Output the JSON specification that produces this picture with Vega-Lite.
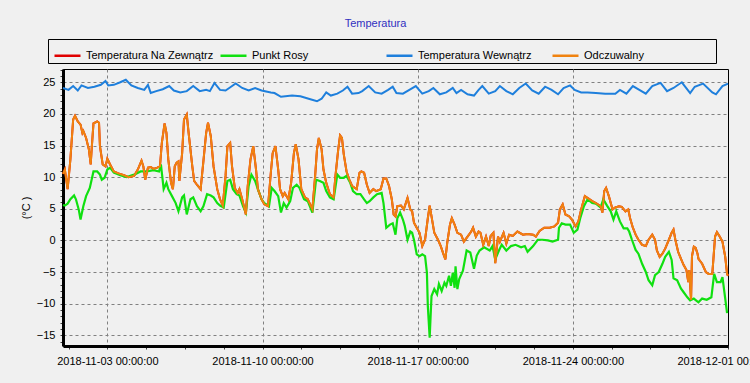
{
  "$schema": "https://vega.github.io/schema/vega-lite/v6.json",
  "width": 665,
  "height": 277,
  "autosize": {"type": "none"},
  "padding": {"left": 63, "top": 69, "right": 22, "bottom": 37},
  "background": "#f0f0f0",
  "title": {"text": "Temperatura", "color": "#3030c0", "fontSize": 11, "fontWeight": "normal", "font": "Liberation Sans", "anchor": "middle", "dx": -20, "offset": 10},
  "datasets": {
    "odcz": [
      {"t":"2018-11-01T00:00","v":10.5},{"t":"2018-11-01T02:00","v":11.2},{"t":"2018-11-01T05:00","v":8.1},{"t":"2018-11-01T08:00","v":12.8},{"t":"2018-11-01T11:00","v":19.1},{"t":"2018-11-01T13:00","v":19.7},{"t":"2018-11-01T16:00","v":18.8},{"t":"2018-11-01T19:00","v":18.3},{"t":"2018-11-01T21:00","v":17},{"t":"2018-11-01T22:00","v":17.3},
      {"t":"2018-11-02T01:00","v":16.2},{"t":"2018-11-02T04:00","v":14.4},{"t":"2018-11-02T06:00","v":12},{"t":"2018-11-02T07:00","v":14.4},{"t":"2018-11-02T09:00","v":18.5},{"t":"2018-11-02T13:00","v":18.8},{"t":"2018-11-02T15:00","v":18.6},{"t":"2018-11-02T16:00","v":14.9},{"t":"2018-11-02T19:00","v":12},{"t":"2018-11-02T22:00","v":11.7},
      {"t":"2018-11-03T00:00","v":12.9},{"t":"2018-11-03T03:00","v":12},{"t":"2018-11-03T07:00","v":10.9},{"t":"2018-11-03T12:00","v":10.6},{"t":"2018-11-03T18:00","v":10.3},{"t":"2018-11-03T23:00","v":10},
      {"t":"2018-11-04T05:00","v":10.2},{"t":"2018-11-04T09:00","v":11.2},{"t":"2018-11-04T13:00","v":12.6},{"t":"2018-11-04T15:00","v":11.7},{"t":"2018-11-04T17:00","v":9.6},{"t":"2018-11-04T20:00","v":11.5},{"t":"2018-11-04T23:00","v":11.6},
      {"t":"2018-11-05T02:00","v":11.3},{"t":"2018-11-05T06:00","v":11.5},{"t":"2018-11-05T09:00","v":11.7},{"t":"2018-11-05T11:00","v":15.4},{"t":"2018-11-05T14:00","v":18.5},{"t":"2018-11-05T16:00","v":17},{"t":"2018-11-05T18:00","v":12.8},{"t":"2018-11-05T21:00","v":9.1},{"t":"2018-11-05T23:00","v":8.1},
      {"t":"2018-11-06T01:00","v":11.7},{"t":"2018-11-06T03:00","v":12.3},{"t":"2018-11-06T05:00","v":12.5},{"t":"2018-11-06T06:00","v":9.4},{"t":"2018-11-06T09:00","v":13.8},{"t":"2018-11-06T11:00","v":19.1},{"t":"2018-11-06T14:00","v":19.9},{"t":"2018-11-06T16:00","v":17},{"t":"2018-11-06T20:00","v":11.7},{"t":"2018-11-06T22:00","v":9.4},
      {"t":"2018-11-07T01:00","v":8.8},{"t":"2018-11-07T05:00","v":8.1},{"t":"2018-11-07T08:00","v":12.5},{"t":"2018-11-07T11:00","v":17},{"t":"2018-11-07T13:00","v":18.6},{"t":"2018-11-07T16:00","v":16.5},{"t":"2018-11-07T19:00","v":11.7},{"t":"2018-11-07T23:00","v":8.1},
      {"t":"2018-11-08T02:00","v":6.5},{"t":"2018-11-08T05:00","v":5.5},{"t":"2018-11-08T08:00","v":10.2},{"t":"2018-11-08T10:00","v":14.9},{"t":"2018-11-08T13:00","v":15.4},{"t":"2018-11-08T15:00","v":11.7},{"t":"2018-11-08T18:00","v":8.3},{"t":"2018-11-08T21:00","v":7.5},{"t":"2018-11-08T23:00","v":8.1},
      {"t":"2018-11-09T02:00","v":6.5},{"t":"2018-11-09T06:00","v":4.1},{"t":"2018-11-09T08:00","v":8.6},{"t":"2018-11-09T11:00","v":12.8},{"t":"2018-11-09T14:00","v":14.9},{"t":"2018-11-09T17:00","v":11.2},{"t":"2018-11-09T19:00","v":8.1},{"t":"2018-11-09T23:00","v":6.5},
      {"t":"2018-11-10T02:00","v":5.7},{"t":"2018-11-10T06:00","v":5.4},{"t":"2018-11-10T09:00","v":10.7},{"t":"2018-11-10T11:00","v":13.8},{"t":"2018-11-10T14:00","v":14.9},{"t":"2018-11-10T17:00","v":11.2},{"t":"2018-11-10T19:00","v":8.1},{"t":"2018-11-10T22:00","v":7},
      {"t":"2018-11-11T00:00","v":7.5},{"t":"2018-11-11T04:00","v":6.5},{"t":"2018-11-11T07:00","v":9.1},{"t":"2018-11-11T10:00","v":13.8},{"t":"2018-11-11T12:00","v":15.2},{"t":"2018-11-11T15:00","v":12.8},{"t":"2018-11-11T18:00","v":8.1},{"t":"2018-11-11T22:00","v":6.8},
      {"t":"2018-11-12T01:00","v":6.5},{"t":"2018-11-12T06:00","v":4.9},{"t":"2018-11-12T09:00","v":10.2},{"t":"2018-11-12T11:00","v":14.4},{"t":"2018-11-12T13:00","v":16.2},{"t":"2018-11-12T16:00","v":14.4},{"t":"2018-11-12T18:00","v":11.2},{"t":"2018-11-12T21:00","v":9.1},
      {"t":"2018-11-13T01:00","v":7.3},{"t":"2018-11-13T05:00","v":6.8},{"t":"2018-11-13T07:00","v":10.2},{"t":"2018-11-13T10:00","v":14.4},{"t":"2018-11-13T12:00","v":16.6},{"t":"2018-11-13T14:00","v":16.2},{"t":"2018-11-13T16:00","v":13.6},{"t":"2018-11-13T19:00","v":10.9},{"t":"2018-11-13T22:00","v":9.6},
      {"t":"2018-11-14T01:00","v":8.6},{"t":"2018-11-14T06:00","v":8.1},{"t":"2018-11-14T09:00","v":10.7},{"t":"2018-11-14T11:00","v":10.9},{"t":"2018-11-14T14:00","v":10.7},{"t":"2018-11-14T17:00","v":8.8},{"t":"2018-11-14T20:00","v":7.5},
      {"t":"2018-11-15T00:00","v":8.1},{"t":"2018-11-15T03:00","v":7.8},{"t":"2018-11-15T08:00","v":8.1},{"t":"2018-11-15T11:00","v":9.8},{"t":"2018-11-15T14:00","v":9.8},{"t":"2018-11-15T17:00","v":8.6},{"t":"2018-11-15T20:00","v":6.5},{"t":"2018-11-15T22:00","v":4.1},
      {"t":"2018-11-16T00:00","v":3.8},{"t":"2018-11-16T02:00","v":5.4},{"t":"2018-11-16T06:00","v":5.5},{"t":"2018-11-16T09:00","v":4.9},{"t":"2018-11-16T13:00","v":6.7},{"t":"2018-11-16T16:00","v":4.9},{"t":"2018-11-16T18:00","v":4.6},{"t":"2018-11-16T20:00","v":2.8},{"t":"2018-11-16T23:00","v":2},
      {"t":"2018-11-17T02:00","v":1.2},{"t":"2018-11-17T05:00","v":-0.9},{"t":"2018-11-17T08:00","v":0.1},{"t":"2018-11-17T11:00","v":3.5},{"t":"2018-11-17T13:00","v":5.5},{"t":"2018-11-17T15:00","v":3.8},{"t":"2018-11-17T18:00","v":1.2},{"t":"2018-11-17T22:00","v":0.1},
      {"t":"2018-11-18T01:00","v":-0.9},{"t":"2018-11-18T04:00","v":-2.2},{"t":"2018-11-18T06:00","v":-3},{"t":"2018-11-18T08:00","v":-0.4},{"t":"2018-11-18T11:00","v":2.5},{"t":"2018-11-18T13:00","v":3.5},{"t":"2018-11-18T16:00","v":2.5},{"t":"2018-11-18T19:00","v":1.2},{"t":"2018-11-18T23:00","v":0.9},
      {"t":"2018-11-19T02:00","v":-0.2},{"t":"2018-11-19T06:00","v":0.6},{"t":"2018-11-19T10:00","v":1.4},{"t":"2018-11-19T12:00","v":2},{"t":"2018-11-19T15:00","v":0.6},{"t":"2018-11-19T18:00","v":1.4},{"t":"2018-11-19T20:00","v":1.2},{"t":"2018-11-19T23:00","v":-0.7},
      {"t":"2018-11-20T02:00","v":0.6},{"t":"2018-11-20T05:00","v":-0.9},{"t":"2018-11-20T07:00","v":0.7},{"t":"2018-11-20T10:00","v":1.2},{"t":"2018-11-20T12:00","v":-3.6},{"t":"2018-11-20T15:00","v":0.6},{"t":"2018-11-20T17:00","v":-0.2},{"t":"2018-11-20T21:00","v":1.2},
      {"t":"2018-11-21T00:00","v":-0.5},{"t":"2018-11-21T03:00","v":0.9},{"t":"2018-11-21T07:00","v":0.7},{"t":"2018-11-21T12:00","v":1.4},{"t":"2018-11-21T18:00","v":0.9},{"t":"2018-11-21T23:00","v":1.0},
      {"t":"2018-11-22T05:00","v":0.9},{"t":"2018-11-22T08:00","v":0.6},{"t":"2018-11-22T12:00","v":1.5},{"t":"2018-11-22T17:00","v":2},{"t":"2018-11-22T23:00","v":2},
      {"t":"2018-11-23T04:00","v":2.2},{"t":"2018-11-23T08:00","v":2.8},{"t":"2018-11-23T10:00","v":4.9},{"t":"2018-11-23T13:00","v":5.7},{"t":"2018-11-23T16:00","v":4.1},{"t":"2018-11-23T20:00","v":3.8},{"t":"2018-11-23T23:00","v":3.3},
      {"t":"2018-11-24T03:00","v":2.2},{"t":"2018-11-24T06:00","v":3},{"t":"2018-11-24T09:00","v":4.9},{"t":"2018-11-24T13:00","v":7},{"t":"2018-11-24T17:00","v":6.6},{"t":"2018-11-24T21:00","v":6.2},
      {"t":"2018-11-25T01:00","v":5.9},{"t":"2018-11-25T06:00","v":5.4},{"t":"2018-11-25T08:00","v":4.4},{"t":"2018-11-25T10:00","v":7.8},{"t":"2018-11-25T12:00","v":8.3},{"t":"2018-11-25T15:00","v":7},{"t":"2018-11-25T19:00","v":4.9},{"t":"2018-11-25T22:00","v":5.2},
      {"t":"2018-11-26T02:00","v":5.4},{"t":"2018-11-26T05:00","v":5.3},{"t":"2018-11-26T09:00","v":4.6},{"t":"2018-11-26T12:00","v":4.9},{"t":"2018-11-26T14:00","v":3.5},{"t":"2018-11-26T17:00","v":2},{"t":"2018-11-26T20:00","v":0.9},{"t":"2018-11-26T23:00","v":0.1},
      {"t":"2018-11-27T03:00","v":-0.7},{"t":"2018-11-27T07:00","v":-0.9},{"t":"2018-11-27T10:00","v":0.1},{"t":"2018-11-27T14:00","v":0.9},{"t":"2018-11-27T17:00","v":0.1},{"t":"2018-11-27T19:00","v":-1.6},{"t":"2018-11-27T22:00","v":-2.6},
      {"t":"2018-11-28T01:00","v":-2.1},{"t":"2018-11-28T04:00","v":-1.3},{"t":"2018-11-28T08:00","v":0.1},{"t":"2018-11-28T11:00","v":1.2},{"t":"2018-11-28T13:00","v":1.7},{"t":"2018-11-28T15:00","v":0.1},{"t":"2018-11-28T18:00","v":-1.8},{"t":"2018-11-28T21:00","v":-2.9},
      {"t":"2018-11-29T00:00","v":-3.9},{"t":"2018-11-29T03:00","v":-4.7},{"t":"2018-11-29T05:00","v":-6.6},{"t":"2018-11-29T06:00","v":-4.7},{"t":"2018-11-29T08:00","v":-9.4},{"t":"2018-11-29T09:00","v":-2.5},{"t":"2018-11-29T11:00","v":-1},{"t":"2018-11-29T13:00","v":-1.2},{"t":"2018-11-29T15:00","v":-2.1},{"t":"2018-11-29T16:00","v":-2.9},{"t":"2018-11-29T20:00","v":-3.7},
      {"t":"2018-11-30T00:00","v":-5},{"t":"2018-11-30T03:00","v":-5.3},{"t":"2018-11-30T07:00","v":-5.3},{"t":"2018-11-30T10:00","v":0.6},{"t":"2018-11-30T12:00","v":1.3},{"t":"2018-11-30T15:00","v":0.6},{"t":"2018-11-30T18:00","v":-0.2},{"t":"2018-11-30T21:00","v":-2.6},{"t":"2018-11-30T23:00","v":-5.3},
      {"t":"2018-12-01T00:00","v":-5.6}
    ],
    "rosa": [
      {"t":"2018-11-01T00:00","v":5.6},{"t":"2018-11-01T02:00","v":5.5},{"t":"2018-11-01T05:00","v":5.8},{"t":"2018-11-01T08:00","v":6.5},{"t":"2018-11-01T12:00","v":7.1},{"t":"2018-11-01T14:00","v":6.5},{"t":"2018-11-01T17:00","v":4.9},{"t":"2018-11-01T19:00","v":3.3},{"t":"2018-11-01T22:00","v":5.4},
      {"t":"2018-11-02T01:00","v":7},{"t":"2018-11-02T05:00","v":8.3},{"t":"2018-11-02T07:00","v":9.6},{"t":"2018-11-02T09:00","v":10.9},{"t":"2018-11-02T13:00","v":10.9},{"t":"2018-11-02T16:00","v":10.4},{"t":"2018-11-02T18:00","v":9.6},{"t":"2018-11-02T21:00","v":9.9},
      {"t":"2018-11-03T00:00","v":11.2},{"t":"2018-11-03T03:00","v":11.5},{"t":"2018-11-03T07:00","v":10.7},{"t":"2018-11-03T14:00","v":10.3},{"t":"2018-11-03T21:00","v":10},
      {"t":"2018-11-04T05:00","v":10.4},{"t":"2018-11-04T12:00","v":10.9},{"t":"2018-11-04T19:00","v":10.9},
      {"t":"2018-11-05T02:00","v":11.1},{"t":"2018-11-05T08:00","v":10.9},{"t":"2018-11-05T10:00","v":12},{"t":"2018-11-05T13:00","v":8.1},{"t":"2018-11-05T16:00","v":9.1},{"t":"2018-11-05T18:00","v":8.1},{"t":"2018-11-05T22:00","v":7},
      {"t":"2018-11-06T02:00","v":5.9},{"t":"2018-11-06T05:00","v":4.6},{"t":"2018-11-06T09:00","v":6.8},{"t":"2018-11-06T11:00","v":7.1},{"t":"2018-11-06T14:00","v":4.1},{"t":"2018-11-06T18:00","v":6.5},{"t":"2018-11-06T21:00","v":6.8},
      {"t":"2018-11-07T01:00","v":5.4},{"t":"2018-11-07T05:00","v":4.6},{"t":"2018-11-07T08:00","v":5.4},{"t":"2018-11-07T12:00","v":7.3},{"t":"2018-11-07T16:00","v":7.1},{"t":"2018-11-07T19:00","v":6.8},{"t":"2018-11-07T23:00","v":5.9},
      {"t":"2018-11-08T02:00","v":5.5},{"t":"2018-11-08T06:00","v":5.2},{"t":"2018-11-08T10:00","v":9.4},{"t":"2018-11-08T13:00","v":9.6},{"t":"2018-11-08T16:00","v":8.1},{"t":"2018-11-08T20:00","v":7.3},{"t":"2018-11-08T23:00","v":7.1},
      {"t":"2018-11-09T03:00","v":5.4},{"t":"2018-11-09T06:00","v":4.4},{"t":"2018-11-09T09:00","v":8.6},{"t":"2018-11-09T12:00","v":10.4},{"t":"2018-11-09T16:00","v":9.4},{"t":"2018-11-09T19:00","v":8.1},{"t":"2018-11-09T23:00","v":6.5},
      {"t":"2018-11-10T02:00","v":5.9},{"t":"2018-11-10T07:00","v":5.4},{"t":"2018-11-10T10:00","v":8.3},{"t":"2018-11-10T13:00","v":7.8},{"t":"2018-11-10T17:00","v":7},{"t":"2018-11-10T20:00","v":4.4},{"t":"2018-11-10T23:00","v":5.9},
      {"t":"2018-11-11T02:00","v":5.2},{"t":"2018-11-11T06:00","v":6.2},{"t":"2018-11-11T09:00","v":8.3},{"t":"2018-11-11T13:00","v":8.8},{"t":"2018-11-11T16:00","v":8.3},{"t":"2018-11-11T21:00","v":6.5},
      {"t":"2018-11-12T01:00","v":6.2},{"t":"2018-11-12T06:00","v":4.4},{"t":"2018-11-12T10:00","v":9.6},{"t":"2018-11-12T14:00","v":9.4},{"t":"2018-11-12T18:00","v":9.1},{"t":"2018-11-12T21:00","v":7.8},
      {"t":"2018-11-13T01:00","v":6.8},{"t":"2018-11-13T05:00","v":6.5},{"t":"2018-11-13T09:00","v":10.4},{"t":"2018-11-13T12:00","v":9.9},{"t":"2018-11-13T16:00","v":9.9},{"t":"2018-11-13T19:00","v":10.2},{"t":"2018-11-13T23:00","v":9.1},
      {"t":"2018-11-14T02:00","v":7.8},{"t":"2018-11-14T06:00","v":7.3},{"t":"2018-11-14T10:00","v":7.3},{"t":"2018-11-14T14:00","v":6.5},{"t":"2018-11-14T17:00","v":5.9},{"t":"2018-11-14T20:00","v":6.2},
      {"t":"2018-11-15T00:00","v":6.8},{"t":"2018-11-15T04:00","v":7.3},{"t":"2018-11-15T09:00","v":7.5},{"t":"2018-11-15T11:00","v":5.9},{"t":"2018-11-15T14:00","v":2},{"t":"2018-11-15T18:00","v":2.5},{"t":"2018-11-15T21:00","v":2.7},
      {"t":"2018-11-16T00:00","v":0.9},{"t":"2018-11-16T02:00","v":3.5},{"t":"2018-11-16T05:00","v":4.4},{"t":"2018-11-16T08:00","v":3.3},{"t":"2018-11-16T10:00","v":2.3},{"t":"2018-11-16T13:00","v":0.1},{"t":"2018-11-16T16:00","v":1.4},{"t":"2018-11-16T18:00","v":1.2},{"t":"2018-11-16T20:00","v":0.1},{"t":"2018-11-16T23:00","v":-2.2},
      {"t":"2018-11-17T02:00","v":-2.5},{"t":"2018-11-17T05:00","v":-2.2},{"t":"2018-11-17T08:00","v":-2.5},{"t":"2018-11-17T10:00","v":-5.1},{"t":"2018-11-17T11:00","v":-10.4},{"t":"2018-11-17T13:00","v":-15.4},{"t":"2018-11-17T14:00","v":-12},{"t":"2018-11-17T15:00","v":-8.8},{"t":"2018-11-17T18:00","v":-7.7},{"t":"2018-11-17T21:00","v":-8.5},{"t":"2018-11-17T23:00","v":-6.9},
      {"t":"2018-11-18T02:00","v":-8},{"t":"2018-11-18T05:00","v":-6.7},{"t":"2018-11-18T07:00","v":-7.2},{"t":"2018-11-18T10:00","v":-5.6},{"t":"2018-11-18T12:00","v":-7.2},{"t":"2018-11-18T14:00","v":-5.1},{"t":"2018-11-18T16:00","v":-7.5},{"t":"2018-11-18T17:00","v":-4.1},{"t":"2018-11-18T19:00","v":-7.7},{"t":"2018-11-18T21:00","v":-6.1},
      {"t":"2018-11-19T01:00","v":-4.8},{"t":"2018-11-19T05:00","v":-1.6},{"t":"2018-11-19T09:00","v":-1.9},{"t":"2018-11-19T13:00","v":-4.5},{"t":"2018-11-19T16:00","v":-2.4},{"t":"2018-11-19T19:00","v":-1.6},
      {"t":"2018-11-20T00:00","v":-1.1},{"t":"2018-11-20T06:00","v":-1.6},{"t":"2018-11-20T09:00","v":-0.9},{"t":"2018-11-20T12:00","v":-3},{"t":"2018-11-20T16:00","v":-1.6},{"t":"2018-11-20T19:00","v":-0.7},
      {"t":"2018-11-21T00:00","v":-1.6},{"t":"2018-11-21T05:00","v":-0.9},{"t":"2018-11-21T10:00","v":-0.7},{"t":"2018-11-21T16:00","v":-1.1},{"t":"2018-11-21T20:00","v":-0.9},{"t":"2018-11-21T23:00","v":-1.8},
      {"t":"2018-11-22T05:00","v":-0.9},{"t":"2018-11-22T10:00","v":0.1},{"t":"2018-11-22T15:00","v":0.1},{"t":"2018-11-22T21:00","v":0},
      {"t":"2018-11-23T02:00","v":-0.2},{"t":"2018-11-23T08:00","v":0.1},{"t":"2018-11-23T09:00","v":2},{"t":"2018-11-23T12:00","v":2.7},{"t":"2018-11-23T16:00","v":2.5},{"t":"2018-11-23T21:00","v":2.5},
      {"t":"2018-11-24T01:00","v":1.2},{"t":"2018-11-24T05:00","v":1.7},{"t":"2018-11-24T08:00","v":3.5},{"t":"2018-11-24T12:00","v":5.4},{"t":"2018-11-24T16:00","v":6.5},{"t":"2018-11-24T21:00","v":5.9},
      {"t":"2018-11-25T01:00","v":5.8},{"t":"2018-11-25T06:00","v":5.2},{"t":"2018-11-25T09:00","v":6.5},{"t":"2018-11-25T13:00","v":5.5},{"t":"2018-11-25T17:00","v":4.6},{"t":"2018-11-25T20:00","v":3.3},{"t":"2018-11-25T23:00","v":4.6},
      {"t":"2018-11-26T03:00","v":3},{"t":"2018-11-26T07:00","v":1.9},{"t":"2018-11-26T11:00","v":1.9},{"t":"2018-11-26T13:00","v":1.4},{"t":"2018-11-26T16:00","v":0.1},{"t":"2018-11-26T20:00","v":-1.5},{"t":"2018-11-26T23:00","v":-2.1},
      {"t":"2018-11-27T03:00","v":-3.7},{"t":"2018-11-27T07:00","v":-5},{"t":"2018-11-27T10:00","v":-6.3},{"t":"2018-11-27T14:00","v":-7.1},{"t":"2018-11-27T17:00","v":-5.5},{"t":"2018-11-27T21:00","v":-5},
      {"t":"2018-11-28T01:00","v":-3.7},{"t":"2018-11-28T04:00","v":-2.6},{"t":"2018-11-28T08:00","v":-1.8},{"t":"2018-11-28T11:00","v":-3.1},{"t":"2018-11-28T13:00","v":-6},{"t":"2018-11-28T17:00","v":-6.3},{"t":"2018-11-28T21:00","v":-7.6},
      {"t":"2018-11-29T00:00","v":-8.2},{"t":"2018-11-29T04:00","v":-9},{"t":"2018-11-29T07:00","v":-9.5},{"t":"2018-11-29T11:00","v":-9.2},{"t":"2018-11-29T16:00","v":-9.8},{"t":"2018-11-29T20:00","v":-9.2},
      {"t":"2018-11-30T01:00","v":-9.4},{"t":"2018-11-30T06:00","v":-9},{"t":"2018-11-30T09:00","v":-5.3},{"t":"2018-11-30T12:00","v":-6.6},{"t":"2018-11-30T16:00","v":-6.6},{"t":"2018-11-30T18:00","v":-5.8},{"t":"2018-11-30T21:00","v":-9.2},{"t":"2018-11-30T23:00","v":-11.5}
    ],
    "wew": [
      {"t":"2018-11-01T00:00","v":24.1},{"t":"2018-11-01T06:00","v":23.8},{"t":"2018-11-01T11:00","v":24.4},{"t":"2018-11-01T16:00","v":23.7},{"t":"2018-11-01T20:00","v":24.5},
      {"t":"2018-11-02T03:00","v":24.1},{"t":"2018-11-02T10:00","v":24.3},{"t":"2018-11-02T17:00","v":24.6},{"t":"2018-11-02T22:00","v":25.2},
      {"t":"2018-11-03T01:00","v":24.5},{"t":"2018-11-03T07:00","v":24.6},{"t":"2018-11-03T14:00","v":25},{"t":"2018-11-03T20:00","v":25.4},
      {"t":"2018-11-04T02:00","v":24.5},{"t":"2018-11-04T09:00","v":24.1},{"t":"2018-11-04T16:00","v":23.8},{"t":"2018-11-04T20:00","v":24.6},{"t":"2018-11-04T23:00","v":23.3},
      {"t":"2018-11-05T05:00","v":23.6},{"t":"2018-11-05T12:00","v":23.9},{"t":"2018-11-05T19:00","v":24.4},
      {"t":"2018-11-06T00:00","v":23.7},{"t":"2018-11-06T07:00","v":23.4},{"t":"2018-11-06T14:00","v":23.6},{"t":"2018-11-06T21:00","v":24.4},
      {"t":"2018-11-07T04:00","v":23.6},{"t":"2018-11-07T11:00","v":23.8},{"t":"2018-11-07T15:00","v":23.6},{"t":"2018-11-07T20:00","v":24.9},
      {"t":"2018-11-08T02:00","v":23.8},{"t":"2018-11-08T08:00","v":23.7},{"t":"2018-11-08T12:00","v":24.1},{"t":"2018-11-08T19:00","v":24.8},
      {"t":"2018-11-09T02:00","v":24.1},{"t":"2018-11-09T09:00","v":23.7},{"t":"2018-11-09T16:00","v":24.1},{"t":"2018-11-09T23:00","v":23.7},
      {"t":"2018-11-10T09:00","v":23.4},{"t":"2018-11-10T13:00","v":23.3},{"t":"2018-11-10T20:00","v":22.7},
      {"t":"2018-11-11T08:00","v":22.9},{"t":"2018-11-11T17:00","v":22.8},
      {"t":"2018-11-12T02:00","v":22.4},{"t":"2018-11-12T11:00","v":22},{"t":"2018-11-12T16:00","v":22.4},{"t":"2018-11-12T21:00","v":23.4},
      {"t":"2018-11-13T02:00","v":22.9},{"t":"2018-11-13T09:00","v":23.2},{"t":"2018-11-13T15:00","v":23.7},{"t":"2018-11-13T20:00","v":24.3},
      {"t":"2018-11-14T01:00","v":23.2},{"t":"2018-11-14T08:00","v":23.3},{"t":"2018-11-14T12:00","v":23.6},{"t":"2018-11-14T19:00","v":24.4},
      {"t":"2018-11-15T02:00","v":23.4},{"t":"2018-11-15T09:00","v":23.2},{"t":"2018-11-15T16:00","v":23.8},{"t":"2018-11-15T21:00","v":24.3},
      {"t":"2018-11-16T01:00","v":23.3},{"t":"2018-11-16T08:00","v":23.2},{"t":"2018-11-16T15:00","v":23.8},{"t":"2018-11-16T22:00","v":24.4},
      {"t":"2018-11-17T05:00","v":23.2},{"t":"2018-11-17T12:00","v":23.6},{"t":"2018-11-17T17:00","v":24.1},
      {"t":"2018-11-18T00:00","v":23.1},{"t":"2018-11-18T07:00","v":23.4},{"t":"2018-11-18T14:00","v":24.1},{"t":"2018-11-18T18:00","v":23.3},{"t":"2018-11-18T23:00","v":23.8},
      {"t":"2018-11-19T06:00","v":23.1},{"t":"2018-11-19T13:00","v":22.9},{"t":"2018-11-19T18:00","v":23.8},{"t":"2018-11-19T22:00","v":24.4},
      {"t":"2018-11-20T05:00","v":23.2},{"t":"2018-11-20T12:00","v":23.6},{"t":"2018-11-20T17:00","v":24.4},
      {"t":"2018-11-21T00:00","v":23.6},{"t":"2018-11-21T07:00","v":23.1},{"t":"2018-11-21T14:00","v":24.1},{"t":"2018-11-21T21:00","v":24.8},
      {"t":"2018-11-22T04:00","v":23.7},{"t":"2018-11-22T11:00","v":23.2},{"t":"2018-11-22T18:00","v":24.3},
      {"t":"2018-11-23T01:00","v":23.8},{"t":"2018-11-23T08:00","v":23.1},{"t":"2018-11-23T14:00","v":24.1},{"t":"2018-11-23T21:00","v":24.5},
      {"t":"2018-11-24T02:00","v":23.8},{"t":"2018-11-24T09:00","v":23.4},{"t":"2018-11-24T16:00","v":23.4},
      {"t":"2018-11-25T01:00","v":23.3},{"t":"2018-11-25T11:00","v":23.2},{"t":"2018-11-25T22:00","v":23.2},
      {"t":"2018-11-26T03:00","v":23.8},{"t":"2018-11-26T10:00","v":23.2},{"t":"2018-11-26T17:00","v":24.4},
      {"t":"2018-11-27T00:00","v":23.8},{"t":"2018-11-27T07:00","v":23.2},{"t":"2018-11-27T14:00","v":24.4},{"t":"2018-11-27T23:00","v":24.9},
      {"t":"2018-11-28T06:00","v":23.6},{"t":"2018-11-28T13:00","v":24.1},{"t":"2018-11-28T22:00","v":25},
      {"t":"2018-11-29T07:00","v":23.3},{"t":"2018-11-29T12:00","v":24.3},{"t":"2018-11-29T21:00","v":24.8},
      {"t":"2018-11-30T07:00","v":23.4},{"t":"2018-11-30T11:00","v":23.1},{"t":"2018-11-30T18:00","v":24.4},
      {"t":"2018-12-01T00:00","v":24.8}
    ]
  },
  "encoding": {
    "x": {
      "field": "t", "type": "temporal",
      "scale": {"domain": [{"year": 2018, "month": 11, "date": 1}, {"year": 2018, "month": 12, "date": 1}]},
      "axis": {
        "title": null,
        "values": [
          {"year":2018,"month":11,"date":1,"hours":6},{"year":2018,"month":11,"date":3},{"year":2018,"month":11,"date":4,"hours":18},{"year":2018,"month":11,"date":6,"hours":12},{"year":2018,"month":11,"date":8,"hours":6},{"year":2018,"month":11,"date":10},{"year":2018,"month":11,"date":11,"hours":18},{"year":2018,"month":11,"date":13,"hours":12},{"year":2018,"month":11,"date":15,"hours":6},{"year":2018,"month":11,"date":17},{"year":2018,"month":11,"date":18,"hours":18},{"year":2018,"month":11,"date":20,"hours":12},{"year":2018,"month":11,"date":22,"hours":6},{"year":2018,"month":11,"date":24},{"year":2018,"month":11,"date":25,"hours":18},{"year":2018,"month":11,"date":27,"hours":12},{"year":2018,"month":11,"date":29,"hours":6},{"year":2018,"month":12,"date":1}
        ],
        "labelExpr": "(hours(datum.value) === 0 && (date(datum.value) % 7 === 3 || month(datum.value) === 11)) ? timeFormat(datum.value, '%Y-%m-%d %H:%M:%S') : ''",
        "labelOverlap": false, "labelFlush": false, "labelBound": false,
        "tickSize": 3, "labelPadding": 6,
        "gridOpacity": {"condition": {"test": "hours(datum.value) === 0 && date(datum.value) % 7 === 3", "value": 1}, "value": 0}
      }
    },
    "y": {
      "field": "v", "type": "quantitative",
      "scale": {"domain": [-16.7, 27.1], "nice": false, "zero": false},
      "axis": {
        "title": "(°C )",
        "values": [-16,-15,-14,-13,-12,-11,-10,-9,-8,-7,-6,-5,-4,-3,-2,-1,0,1,2,3,4,5,6,7,8,9,10,11,12,13,14,15,16,17,18,19,20,21,22,23,24,25,26,27],
        "labelExpr": "datum.value % 5 === 0 ? datum.label : ''",
        "labelOverlap": false,
        "tickSize": 3, "labelPadding": 5, "titlePadding": 5,
        "gridOpacity": {"condition": {"test": "datum.value % 5 === 0", "value": 1}, "value": 0}
      }
    }
  },
  "layer": [
    {
      "data": {"name": "odcz"},
      "mark": {"type": "line", "strokeWidth": 2},
      "encoding": {
        "color": {
          "datum": "Temperatura Na Zewnątrz", "type": "nominal",
          "scale": {"domain": ["Temperatura Na Zewnątrz", "Punkt Rosy", "Temperatura Wewnątrz", "Odczuwalny"], "range": ["#e00000", "#10e010", "#1e7fdc", "#f0820f"]},
          "legend": {
            "title": " ", "titleOrient": "right", "titlePadding": 70,
            "orient": "none", "legendX": -15, "legendY": -30,
            "direction": "horizontal", "columns": 4, "gridAlign": "all", "columnPadding": 1,
            "symbolType": "stroke", "symbolSize": 676, "symbolStrokeWidth": 2.5, "symbolOffset": 3,
            "labelFontSize": 11, "labelFont": "Liberation Sans", "labelColor": "black", "labelOffset": 4, "labelLimit": 300,
            "strokeColor": "black", "padding": 2
          }
        }
      }
    },
    {
      "data": {"name": "rosa"},
      "mark": {"type": "line", "strokeWidth": 2.2},
      "encoding": {"color": {"datum": "Punkt Rosy", "type": "nominal"}}
    },
    {
      "data": {"name": "wew"},
      "mark": {"type": "line", "strokeWidth": 2},
      "encoding": {"color": {"datum": "Temperatura Wewnątrz", "type": "nominal"}}
    },
    {
      "data": {"name": "odcz"},
      "mark": {"type": "line", "strokeWidth": 2},
      "encoding": {"color": {"datum": "Odczuwalny", "type": "nominal"}}
    }
  ],
  "config": {
    "font": "Liberation Sans",
    "view": {"stroke": "black", "strokeWidth": 1, "fill": "#f0f0f0"},
    "axis": {
      "labelFont": "Liberation Sans", "labelFontSize": 11, "labelColor": "black",
      "titleFont": "Liberation Sans", "titleFontSize": 11, "titleFontWeight": "normal", "titleColor": "black",
      "domainColor": "black", "domainWidth": 3, "tickColor": "#404040",
      "grid": true, "gridColor": "#808080", "gridDash": [3, 3], "gridWidth": 1
    }
  }
}
